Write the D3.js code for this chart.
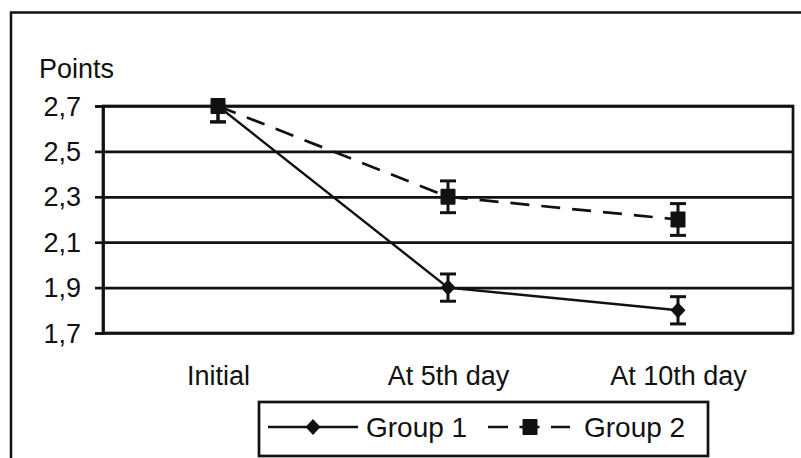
<!DOCTYPE html>
<html>
<head>
<meta charset="utf-8">
<script src="https://cdn.jsdelivr.net/npm/d3@7"></script>
<style>
  html, body { margin: 0; padding: 0; background: #fff; }
  svg { display: block; }
  text { font-family: "Liberation Sans", Arial, sans-serif; fill: #111; }
</style>
</head>
<body>
<script>
const categories = ["Initial", "At 5th day", "At 10th day"];
const group1 = [2.7, 1.9, 1.8];
const group1Err = [0.07, 0.06, 0.06];
const group2 = [2.7, 2.3, 2.2];
const group2Err = [0.07, 0.07, 0.07];
const yTicks = [1.7, 1.9, 2.1, 2.3, 2.5, 2.7];
const seriesNames = ["Group 1", "Group 2"];

const W = 801, H = 458;
const plot = { left: 103, right: 793, top: 106, bottom: 333 };
const ink = "#111";

const svg = d3.select("body").append("svg").attr("width", W).attr("height", H);

svg.append("defs").append("clipPath").attr("id", "plotclip").append("rect")
  .attr("x", plot.left - 20).attr("y", plot.top).attr("width", plot.right - plot.left + 40)
  .attr("height", plot.bottom - plot.top + 20);

// outer frame (cropped at right and bottom)
svg.append("rect").attr("x", 11).attr("y", 12.5).attr("width", 820).attr("height", 480)
  .attr("fill", "none").attr("stroke", ink).attr("stroke-width", 2.5);

const x = d3.scalePoint().domain(categories).range([plot.left, plot.right]).padding(0.5);
const y = d3.scaleLinear().domain([1.7, 2.7]).range([plot.bottom, plot.top]);

// gridlines
const grid = svg.append("g").attr("transform", `translate(${plot.left},0)`)
  .call(d3.axisLeft(y).tickValues(yTicks).tickSize(-(plot.right - plot.left)).tickFormat(""));
grid.select(".domain").remove();
grid.selectAll("line").attr("stroke", ink).attr("stroke-width", 2.7);

// plot frame
svg.append("rect").attr("x", plot.left).attr("y", plot.top)
  .attr("width", plot.right - plot.left).attr("height", plot.bottom - plot.top)
  .attr("fill", "none").attr("stroke", ink).attr("stroke-width", 2.7);

// y axis
const yAxis = svg.append("g").attr("transform", `translate(${plot.left},0)`)
  .call(d3.axisLeft(y).tickValues(yTicks).tickSize(8).tickPadding(14)
    .tickFormat(d => d3.format(".1f")(d).replace(".", ",")));
yAxis.select(".domain").attr("stroke", ink).attr("stroke-width", 2.7);
yAxis.selectAll(".tick line").attr("stroke", ink).attr("stroke-width", 2.7);
yAxis.selectAll("text").attr("font-size", 27).attr("font-family", "Liberation Sans, Arial, sans-serif")
  .attr("fill", ink).attr("dy", "0.34em");

svg.append("text").attr("x", 39).attr("y", 78).attr("font-size", 27).text("Points");

// x axis labels
const xAxis = svg.append("g").attr("transform", `translate(0,${plot.bottom})`)
  .call(d3.axisBottom(x).tickSize(0).tickPadding(0));
xAxis.select(".domain").remove();
xAxis.selectAll("text").attr("font-size", 27).attr("font-family", "Liberation Sans, Arial, sans-serif")
  .attr("fill", ink).attr("dy", 0).attr("y", 52);

const series = [
  { name: seriesNames[0], vals: group1, err: group1Err, dash: null, width: 2.4, marker: "diamond" },
  { name: seriesNames[1], vals: group2, err: group2Err, dash: "19,12", width: 2.7, marker: "square" }
];

const diamond = (g, cx, cy) => g.append("path")
  .attr("d", `M${cx},${cy - 8}L${cx + 7.5},${cy}L${cx},${cy + 8}L${cx - 7.5},${cy}Z`).attr("fill", ink);
const square = (g, cx, cy) => g.append("rect")
  .attr("x", cx - 7.5).attr("y", cy - 8).attr("width", 15).attr("height", 16).attr("rx", 1).attr("fill", ink);

const line = d3.line().x((d, i) => x(categories[i])).y(d => y(d));

series.forEach(s => {
  const g = svg.append("g");
  g.append("path").attr("d", line(s.vals)).attr("fill", "none").attr("stroke", ink)
    .attr("stroke-width", s.width).attr("stroke-dasharray", s.dash);
  const eb = g.append("g").attr("clip-path", "url(#plotclip)");
  s.vals.forEach((v, i) => {
    const cx = x(categories[i]);
    const y1 = y(v + s.err[i]), y0 = y(v - s.err[i]);
    eb.append("line").attr("x1", cx).attr("x2", cx).attr("y1", y1).attr("y2", y0)
      .attr("stroke", ink).attr("stroke-width", 3);
    [y1, y0].forEach(yy => eb.append("line").attr("x1", cx - 8).attr("x2", cx + 8)
      .attr("y1", yy).attr("y2", yy).attr("stroke", ink).attr("stroke-width", 3));
  });
  s.vals.forEach((v, i) => {
    const cx = x(categories[i]);
    if (s.marker === "diamond") diamond(g, cx, y(v)); else square(g, cx, y(v));
  });
});

// legend
const lg = svg.append("g");
lg.append("rect").attr("x", 259).attr("y", 402).attr("width", 449).attr("height", 54)
  .attr("fill", "#fff").attr("stroke", ink).attr("stroke-width", 2.7);
const ly = 427;
lg.append("line").attr("x1", 268).attr("x2", 358).attr("y1", ly).attr("y2", ly)
  .attr("stroke", ink).attr("stroke-width", 2.4);
diamond(lg, 313, ly);
lg.append("text").attr("x", 366).attr("y", ly).attr("dy", "0.35em").attr("font-size", 28).text(seriesNames[0]);
lg.append("line").attr("x1", 488).attr("x2", 570).attr("y1", ly).attr("y2", ly)
  .attr("stroke", ink).attr("stroke-width", 2.7).attr("stroke-dasharray", "20,11.5");
square(lg, 530, ly);
lg.append("text").attr("x", 584).attr("y", ly).attr("dy", "0.35em").attr("font-size", 28).text(seriesNames[1]);
</script>
</body>
</html>
